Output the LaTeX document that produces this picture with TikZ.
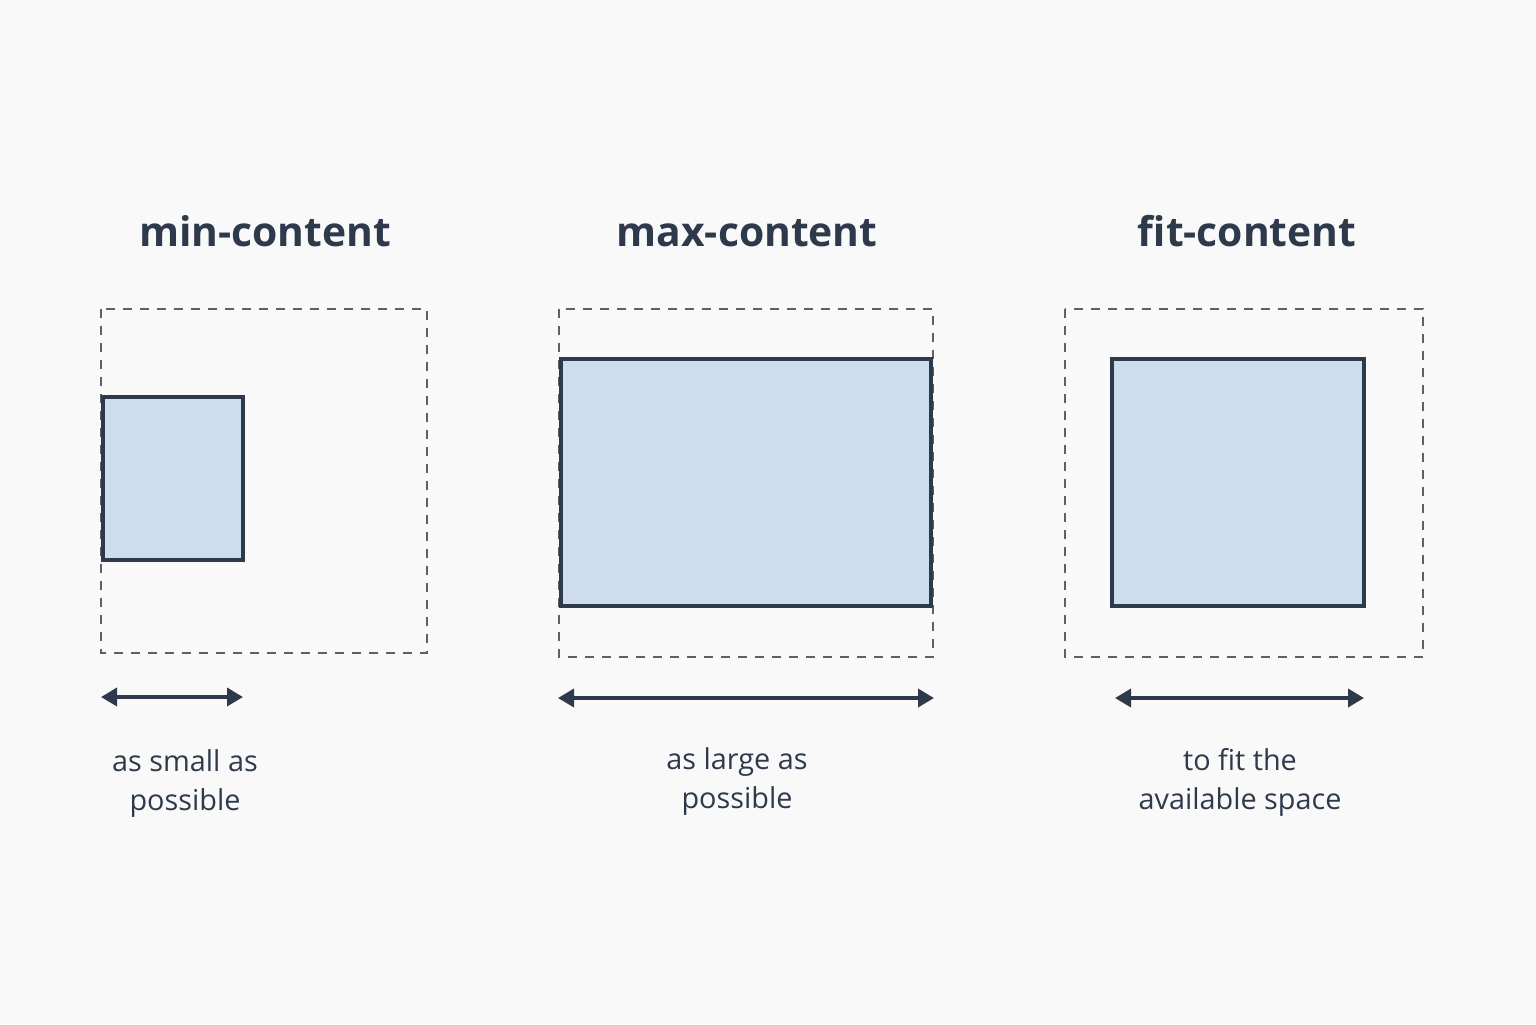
\documentclass[tikz,border=0pt]{standalone}
\usepackage{fontspec}
\setmainfont{Open Sans}
\usetikzlibrary{arrows.meta}
\definecolor{ink}{HTML}{2E3A4B}
\definecolor{boxfill}{HTML}{CEDDED}
\definecolor{dashc}{HTML}{5C6168}
\definecolor{bg}{HTML}{F9F9FA}
\tikzset{
  title/.style={font=\fontsize{20.4}{24}\selectfont\bfseries, text=ink, anchor=base},
  lbl/.style={font=\fontsize{14.4}{19.5}\selectfont, text=ink, align=center, anchor=north},
  outer/.style={draw=dashc, line width=0.9pt, dash pattern=on 4.5pt off 4pt},
  inner/.style={draw=ink, fill=boxfill, line width=2.4pt},
  dim/.style={draw=ink, line width=1.8pt, {Triangle[length=8pt,width=9pt]}-{Triangle[length=8pt,width=9pt]}}
}
\begin{document}
\begin{tikzpicture}[x=0.5pt,y=-0.5pt]
\fill[bg] (0,0) rectangle (1536,1024);
\useasboundingbox (0,0) rectangle (1536,1024);
% titles
\node[title] (t1) at (265,246) {min-content};
\node[title] (t2) at (747,246) {max-content};
\node[title] (t3) at (1247,246) {fit-content};
% dashed containers
\draw[outer] (101,309) rectangle (427,653);
\draw[outer] (559,309) rectangle (933,657);
\draw[outer] (1065,309) rectangle (1423,657);
% content boxes
\draw[inner] (103,397) rectangle (243,560);
\draw[inner] (561,359) rectangle (931,606);
\draw[inner] (1112,359) rectangle (1364,606);
% dimension arrows
\coordinate (a1l) at (101,697); \coordinate (a1r) at (243,697);
\coordinate (a2l) at (558,698); \coordinate (a2r) at (934,698);
\coordinate (a3l) at (1115,698); \coordinate (a3r) at (1364,698);
\draw[dim] (a1l) -- (a1r);
\draw[dim] (a2l) -- (a2r);
\draw[dim] (a3l) -- (a3r);
% labels
\node[lbl] (l1) at (185,743) {as small as\\possible};
\node[lbl] (l2) at (737,741) {as large as\\possible};
\node[lbl] (l3) at (1240,741) {to fit the\\available space};
\end{tikzpicture}
\end{document}
